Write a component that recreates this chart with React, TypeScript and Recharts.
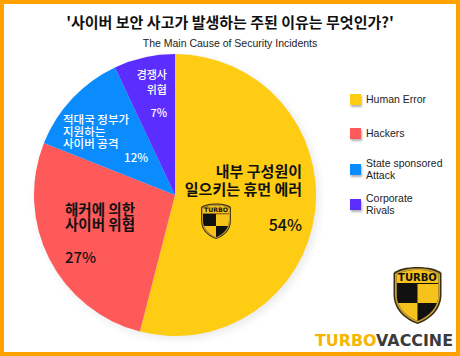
import React from 'react';
import { PieChart, Pie, Cell } from 'recharts';

const categories = ['Human Error', 'Hackers', 'State sponsored Attack', 'Corporate Rivals'];
const legendLines = [['Human Error'], ['Hackers'], ['State sponsored', 'Attack'], ['Corporate', 'Rivals']];
const shares = [54, 27, 12, 7];
const koreanLabels = [
  ['내부 구성원이', '일으키는 휴먼 에러'],
  ['해커에 의한', '사이버 위협'],
  ['적대국 정부가', '지원하는', '사이버 공격'],
  ['경쟁사', '위협'],
];
const colors = ['#FFCC14', '#FF5A5A', '#0A8CFF', '#5B2EFF'];

const data = categories.map((name, i) => ({ name, value: shares[i] }));

const KR = '"Noto Sans CJK KR", sans-serif';

// text placement for each slice, offsets from the pie centre
const labelLayout = [
  { anchor: 'end', x: 127, ys: [-23, -5], size: 15, weight: 700, color: '#111', px: 127, py: 30, psize: 16, panchor: 'end' },
  { anchor: 'start', x: -110, ys: [15, 30], size: 14.5, weight: 700, color: '#111', px: -110, py: 63, psize: 15, panchor: 'start' },
  { anchor: 'start', x: -112, ys: [-75, -63, -51], size: 11.5, weight: 500, color: '#fff', px: -27, py: -37, psize: 11.5, panchor: 'end' },
  { anchor: 'end', x: -8, ys: [-120, -105], size: 11, weight: 500, color: '#fff', px: -8, py: -82, psize: 11, panchor: 'end' },
];

const Shield = ({ x, y, w, h }: { x: number; y: number; w: number; h: number }) => (
  <svg x={x} y={y} width={w} height={h} viewBox="0 0 50 58">
    <defs>
      <clipPath id={`sc${x}${y}`}>
        <path d="M25 4 C34 4 42 6 46 9 L46 28 C46 41 37 50 25 55 C13 50 4 41 4 28 L4 9 C8 6 16 4 25 4 Z" />
      </clipPath>
    </defs>
    <path d="M25 1 C36 1 45 3 49 7 L49 28 C49 43 39 53 25 58 C11 53 1 43 1 28 L1 7 C5 3 14 1 25 1 Z" fill="#3a2e10" />
    <path d="M25 2.5 C35 2.5 43.5 4.5 47.5 8 L47.5 28 C47.5 42 38 51.5 25 56.5 C12 51.5 2.5 42 2.5 28 L2.5 8 C6.5 4.5 15 2.5 25 2.5 Z" fill="#C9A23A" />
    <g clipPath={`url(#sc${x}${y})`}>
      <rect x="0" y="0" width="50" height="60" fill="#111" />
      <rect x="25" y="18" width="25" height="19" fill="#F7C21B" />
      <rect x="0" y="37" width="25" height="25" fill="#F7C21B" />
      <rect x="0" y="4" width="50" height="13" fill="#F7C21B" />
    </g>
    <text x="25" y="14.5" textAnchor="middle" fontFamily="'DejaVu Sans', sans-serif" fontWeight={700} fontSize="10" fill="#111">TURBO</text>
  </svg>
);

const renderLabel = (props: any) => {
  const { cx, cy, index } = props;
  const l = labelLayout[index];
  return (
    <g>
      {koreanLabels[index].map((line, j) => (
        <text key={j} x={cx + l.x} y={cy + l.ys[j] + l.size * 0.36} textAnchor={l.anchor}
          fontFamily={KR} fontSize={l.size} fontWeight={l.weight} fill={l.color}>
          {line}
        </text>
      ))}
      <text x={cx + l.px} y={cy + l.py + l.psize * 0.36} textAnchor={l.panchor}
        fontFamily={KR} fontSize={l.psize} fontWeight={500} fill={l.color}>
        {`${shares[index]}%`}
      </text>
      {index === 0 && <Shield x={cx + 24} y={cy + 8} w={34} h={36} />}
    </g>
  );
};

export default function App() {
  return (
    <div style={{ position: 'absolute', left: 0, top: 0, width: 460, height: 356, background: '#fff', overflow: 'hidden' }}>
      <style>{'.pie-shadow { filter: blur(3px); opacity: 0.3; }'}</style>
      <div style={{ position: 'absolute', left: 0, top: 11, width: 460, textAlign: 'center', fontFamily: KR, fontWeight: 700, fontSize: 15, color: '#111', lineHeight: '22px' }}>
        '사이버 보안 사고가 발생하는 주된 이유는 무엇인가?'
      </div>
      <div style={{ position: 'absolute', left: 0, top: 36, width: 460, textAlign: 'center', fontFamily: '"Liberation Sans", Arial, sans-serif', fontSize: 10.5, color: '#222', lineHeight: '14px' }}>
        The Main Cause of Security Incidents
      </div>
      <div style={{ position: 'absolute', left: 0, top: 0 }}>
        <PieChart width={460} height={356} margin={{ top: 0, right: 0, bottom: 0, left: 0 }}>
          <Pie className="pie-shadow" data={data} dataKey="value" cx={178} cy={198} outerRadius={141}
            startAngle={90} endAngle={-270} stroke="none" isAnimationActive={false} label={false} labelLine={false}>
            {data.map((d) => <Cell key={d.name} fill="#000" />)}
          </Pie>
          <Pie data={data} dataKey="value" cx={175} cy={195} outerRadius={141}
            startAngle={90} endAngle={-270} stroke="none" isAnimationActive={false}
            label={renderLabel} labelLine={false}>
            {data.map((d, i) => <Cell key={d.name} fill={colors[i]} />)}
          </Pie>
        </PieChart>
      </div>
      <div style={{ position: 'absolute', left: 350, top: 90, fontFamily: '"Liberation Sans", Arial, sans-serif', fontSize: 10.5, color: '#222' }}>
        {legendLines.map((lines, i) => {
          const tops = [4, 38, 74, 109];
          return (
            <div key={i} style={{ position: 'absolute', top: tops[i], left: 0, width: 100 }}>
              <div style={{ position: 'absolute', left: 0, top: 0, width: 11, height: 11, background: colors[i], boxShadow: '1px 2px 2px rgba(0,0,0,0.3)' }} />
              <div style={{ position: 'absolute', left: 16, top: lines.length > 1 ? -7 : -1, lineHeight: '12px', whiteSpace: 'nowrap' }}>
                {lines.map((t) => <div key={t}>{t}</div>)}
              </div>
            </div>
          );
        })}
      </div>
      <svg style={{ position: 'absolute', left: 0, top: 0 }} width={460} height={356}>
        <Shield x={391} y={266} w={53} h={58} />
        <text x={315} y={346} fontFamily="'DejaVu Sans', sans-serif" fontWeight={700} fontSize={15}
          textLength={138} lengthAdjust="spacingAndGlyphs">
          <tspan fill="#F5B500">TURBO</tspan><tspan fill="#3b3b3b">VACCINE</tspan>
        </text>
      </svg>
      <div style={{ position: 'absolute', left: 0, top: 0, width: 460, height: 356, boxSizing: 'border-box', border: '4px solid #FFA200', pointerEvents: 'none' }} />
    </div>
  );
}
